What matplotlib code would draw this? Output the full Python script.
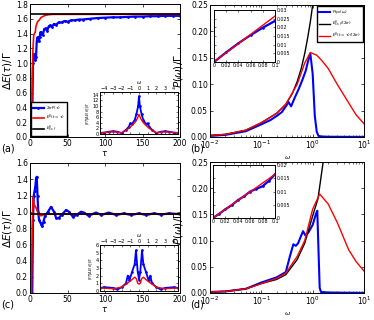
import numpy as np
import matplotlib
matplotlib.use("Agg")
import matplotlib.pyplot as plt

# ---- panel (a): energy vs tau ----
tau_a_blue = [0, 2, 3, 4, 5, 6, 7, 8, 9, 10, 11, 12, 13, 14, 15, 17, 19, 21, 23, 25, 27,
              29, 32, 35, 38, 42, 46, 50, 55, 60, 65, 70, 80, 90, 100, 110, 120, 130,
              140, 150, 160, 170, 180, 190, 200]
dE_a_blue = [0, 0, 0.3, 1.0, 1.12, 1.08, 1.04, 1.08, 1.30, 1.35, 1.32, 1.30, 1.36, 1.42,
             1.40, 1.38, 1.46, 1.47, 1.44, 1.50, 1.51, 1.49, 1.53, 1.52, 1.55, 1.55, 1.57,
             1.56, 1.58, 1.58, 1.59, 1.59, 1.60, 1.61, 1.615, 1.62, 1.62, 1.625, 1.63,
             1.63, 1.635, 1.635, 1.64, 1.64, 1.64]
tau_a_red = [0, 2, 3, 4, 5, 6, 7, 8, 10, 12, 15, 20, 25, 30, 200]
dE_a_red = [0, 0, 0.8, 1.2, 1.38, 1.40, 1.42, 1.50, 1.56, 1.58, 1.62, 1.645, 1.655, 1.66, 1.66]
Ess_a = 1.66

w_ins_a_blue = [-4.5, -4, -3.5, -3, -2.5, -2, -1.5, -1.2, -1, -0.8, -0.5, -0.3, -0.1, 0,
                0.1, 0.3, 0.5, 0.8, 1, 1.2, 1.5, 2, 2.5, 3, 3.5, 4, 4.5]
ft_ins_a_blue = [0.4, 0.5, 0.8, 1.0, 0.8, 0.3, 1.5, 2.5, 3.8, 3.6, 5.0, 7.0, 10.0, 13.5,
                 10.0, 7.0, 5.0, 3.6, 3.8, 2.5, 1.5, 0.3, 0.8, 1.0, 0.8, 0.5, 0.4]
w_ins_a_red = [-4.5, -3, -2, -1.5, -1, -0.5, -0.2, 0, 0.2, 0.5, 1, 1.5, 2, 3, 4.5]
ft_ins_a_red = [0.4, 0.8, 0.5, 1.3, 2.5, 4.0, 5.5, 7.0, 5.5, 4.0, 2.5, 1.3, 0.5, 0.8, 0.4]

# ---- panel (b): spectrum ----
w_b_blue = [0.01, 0.02, 0.05, 0.1, 0.15, 0.2, 0.25, 0.3, 0.34, 0.38, 0.45, 0.53, 0.63,
            0.73, 0.82, 0.9, 1.0, 1.1, 1.2, 1.3, 1.5, 2, 5, 10]
P_b_blue = [0.002, 0.004, 0.011, 0.024, 0.032, 0.040, 0.047, 0.058, 0.066, 0.058, 0.075,
            0.090, 0.108, 0.125, 0.145, 0.158, 0.12, 0.04, 0.01, 0.002, 0.001, 0.0005,
            0.0003, 0.0002]
w_b_red = [0.01, 0.02, 0.05, 0.1, 0.2, 0.3, 0.5, 0.7, 0.9, 1.2, 1.5, 2, 3, 5, 7, 10]
P_b_red = [0.003, 0.005, 0.013, 0.027, 0.045, 0.062, 0.10, 0.14, 0.16, 0.155, 0.145,
           0.13, 0.10, 0.065, 0.042, 0.025]
w_b_black = [0.01, 0.02, 0.05, 0.1, 0.2, 0.3, 0.4, 0.5, 0.6, 0.7, 0.8, 0.9, 1.0]
P_b_black = [0.003, 0.005, 0.013, 0.027, 0.045, 0.062, 0.082, 0.105, 0.13, 0.158, 0.188,
             0.218, 0.25]

w_ins_b = [0, 0.02, 0.04, 0.06, 0.08, 0.1]
P_ins_b_blue = [0, 0.0056, 0.0108, 0.0155, 0.0198, 0.0237]
P_ins_b_red = [0, 0.0053, 0.0106, 0.0159, 0.0212, 0.0265]

# ---- panel (c): energy vs tau ----
tau_c_blue = [0, 3, 4, 5, 6, 7, 8, 9, 10, 11, 12, 14, 15, 16, 18, 20, 24, 28, 32, 35, 38,
              42, 48, 52, 57, 62, 68, 72, 78, 88, 95, 105, 115, 125, 135, 145, 155, 165,
              175, 185, 200]
dE_c_blue = [0, 0, 0.9, 1.2, 1.25, 1.3, 1.40, 1.43, 1.2, 1.0, 0.9, 0.86, 0.85, 0.82, 0.88,
             0.95, 1.0, 1.06, 1.0, 0.92, 0.92, 0.96, 1.02, 1.0, 0.94, 0.96, 1.0, 0.99, 0.95,
             0.99, 0.96, 0.99, 0.96, 0.98, 0.96, 0.98, 0.96, 0.98, 0.965, 0.98, 0.97]
tau_c_red = [0, 2, 3, 4, 5, 6, 8, 10, 12, 15, 20, 200]
dE_c_red = [0, 0, 0.8, 1.18, 1.10, 1.08, 1.05, 1.0, 0.96, 0.95, 0.97, 0.97]
Ess_c = 0.97

w_ins_c_blue = [-4.5, -4, -3, -2.5, -2, -1.5, -1.3, -1.1, -0.8, -0.5, -0.35, -0.15, 0,
                0.15, 0.35, 0.5, 0.8, 1.1, 1.3, 1.5, 2, 2.5, 3, 4, 4.5]
ft_ins_c_blue = [0.4, 0.5, 0.4, 0.2, 0.5, 1.0, 2.0, 1.4, 2.5, 3.5, 5.3, 2.5, 1.5, 2.5, 5.3,
                 3.5, 2.5, 1.4, 2.0, 1.0, 0.5, 0.2, 0.4, 0.5, 0.4]
w_ins_c_red = [-4.5, -3, -2, -1.5, -1, -0.5, -0.3, -0.15, 0, 0.15, 0.3, 0.5, 1, 1.5, 2, 3, 4.5]
ft_ins_c_red = [0.4, 0.3, 0.5, 0.9, 1.3, 1.8, 1.6, 1.0, 0.9, 1.0, 1.6, 1.8, 1.3, 0.9, 0.5,
                0.3, 0.4]

# ---- panel (d): spectrum ----
w_d_blue = [0.01, 0.02, 0.05, 0.1, 0.2, 0.3, 0.36, 0.42, 0.47, 0.52, 0.6, 0.65, 0.72,
            0.82, 1.0, 1.15, 1.23, 1.3, 1.37, 1.45, 2, 5, 10]
P_d_blue = [0.002, 0.003, 0.008, 0.020, 0.030, 0.040, 0.070, 0.093, 0.090, 0.095, 0.110,
            0.118, 0.110, 0.115, 0.130, 0.150, 0.157, 0.08, 0.01, 0.002, 0.001, 0.0005,
            0.0003]
w_d_red = [0.01, 0.02, 0.05, 0.1, 0.2, 0.3, 0.5, 0.7, 1.0, 1.37, 2, 3, 5, 7, 10]
P_d_red = [0.002, 0.003, 0.008, 0.018, 0.028, 0.038, 0.07, 0.10, 0.16, 0.189, 0.17,
           0.135, 0.083, 0.06, 0.042]
w_d_black = [0.01, 0.02, 0.05, 0.1, 0.2, 0.3, 0.5, 0.7, 1.0, 1.27, 1.6]
P_d_black = [0.002, 0.003, 0.008, 0.018, 0.026, 0.035, 0.064, 0.095, 0.147, 0.18, 0.25]

w_ins_d = [0, 0.01, 0.02, 0.03, 0.04, 0.05, 0.06, 0.07, 0.08, 0.09, 0.1]
P_ins_d_blue = [0, 0.0016, 0.0033, 0.0048, 0.0067, 0.0082, 0.0100, 0.0110, 0.0120,
                0.0140, 0.0165]
P_ins_d_red = [0, 0.0016, 0.0033, 0.0050, 0.0066, 0.0083, 0.0099, 0.0115, 0.0132,
               0.0148, 0.0165]

W, H = 374, 320


def box(x0, x1, y0, y1):
    # pixel box (top-left origin) -> figure fraction
    return [x0 / W, 1 - y1 / H, (x1 - x0) / W, (y1 - y0) / H]


plt.rcParams["font.family"] = "DejaVu Sans"
plt.rcParams["mathtext.fontset"] = "dejavusans"
plt.rcParams["xtick.direction"] = "in"
plt.rcParams["ytick.direction"] = "in"
plt.rcParams["xtick.top"] = True
plt.rcParams["ytick.right"] = True
plt.rcParams["axes.linewidth"] = 0.7

fig = plt.figure(figsize=(W / 100, H / 100), dpi=100)

tick_fs = 5.5
lab_fs = 7.5
ins_fs = 3.0


def energy_panel(rect, tb, yb, tr, yr, ess, ylim, yticks, tag):
    ax = fig.add_axes(box(*rect))
    ax.plot(tb, yb, color="b", lw=1.6, marker=".", ms=2, label=r"$2\pi P(\tau)$")
    ax.plot(tr, yr, color="r", lw=1.2, label=r"$E^0(t=\tau)$")
    ax.axhline(ess, color="k", lw=1.2, label=r"$E^0_{ss,f}$")
    ax.set_xlim(0, 200)
    ax.set_ylim(*ylim)
    ax.set_yticks(yticks)
    ax.set_xticks([0, 50, 100, 150, 200])
    ax.tick_params(labelsize=tick_fs, length=2.5, width=0.5, pad=1.5)
    ax.set_xlabel(r"$\tau$", fontsize=lab_fs - 1.5, labelpad=1)
    ax.set_ylabel(r"$\Delta E(\tau)/\Gamma$", fontsize=lab_fs, labelpad=1)
    ax.text(-0.19, -0.09, tag, transform=ax.transAxes, fontsize=7, va="center")
    return ax


def spectrum_panel(rect, wb, pb, wr, pr, wk, pk, tag):
    ax = fig.add_axes(box(*rect))
    ax.plot(wb, pb, color="b", lw=1.5, label=r"$P_{spa}(\omega)$")
    ax.plot(wk, pk, color="k", lw=1.0, label=r"$E^0_{ss,f}/(2\pi)$")
    ax.plot(wr, pr, color="r", lw=1.0, label=r"$E^0(t=\tau)/(2\pi)$")
    ax.set_xscale("log")
    ax.set_xlim(1e-2, 1e1)
    ax.set_ylim(0, 0.25)
    ax.set_yticks([0, 0.05, 0.10, 0.15, 0.20, 0.25])
    ax.tick_params(labelsize=tick_fs, length=2.5, width=0.5, pad=1.5)
    ax.tick_params(which="minor", length=1.2, width=0.4)
    ax.set_xlabel(r"$\omega$", fontsize=lab_fs - 3, labelpad=2)
    ax.set_ylabel(r"$P(\omega)/\Gamma$", fontsize=lab_fs)
    ax.yaxis.set_label_coords(-0.165, 0.5)
    ax.text(-0.13, -0.09, tag, transform=ax.transAxes, fontsize=7, va="center")
    return ax


def ft_inset(rect, wb, fb, wr, fr, ylim, yticks):
    ins = fig.add_axes(box(*rect))
    ins.plot(wb, fb, color="b", lw=1.3, marker=".", ms=1.8)
    ins.plot(wr, fr, color="r", lw=1.0)
    ins.set_xlim(-4.5, 4.5)
    ins.set_ylim(*ylim)
    ins.set_yticks(yticks)
    ins.set_xticks([-4, -3, -2, -1, 0, 1, 2, 3, 4])
    ins.tick_params(labelsize=ins_fs + 0.6, length=1.5, width=0.4, pad=1,
                    labeltop=True, labelbottom=False)
    ins.xaxis.set_label_position("top")
    ins.set_xlabel(r"$\omega$", fontsize=ins_fs + 0.6, labelpad=1)
    ins.set_ylabel(r"$|FT[\Delta E(t)]|/\Gamma$", fontsize=ins_fs - 0.4, labelpad=0.5)
    return ins


def lin_inset(rect, w, pb, pr, ylim, yticks, yticklabels):
    ins = fig.add_axes(box(*rect))
    ins.plot(w, pb, color="b", lw=1.6, marker=".", ms=1.8)
    ins.plot(w, pr, color="r", lw=1.0)
    ins.set_xlim(0, 0.1)
    ins.set_ylim(*ylim)
    ins.set_xticks([0, 0.02, 0.04, 0.06, 0.08, 0.1])
    ins.set_xticklabels(["0", "0.02", "0.04", "0.06", "0.08", "0.1"])
    ins.set_yticks(yticks)
    ins.set_yticklabels(yticklabels)
    ins.tick_params(labelsize=ins_fs + 0.4, length=1.5, width=0.4, pad=1,
                    labelleft=False, labelright=True)
    return ins


leg_kw = dict(fontsize=ins_fs, handlelength=2.6, borderpad=0.5, labelspacing=0.35,
              handletextpad=0.6, fancybox=False, edgecolor="k", framealpha=1)

ax_a = energy_panel((30, 180, 4, 137), tau_a_blue, dE_a_blue, tau_a_red, dE_a_red, Ess_a,
                    (0, 1.8), np.arange(0, 1.81, 0.2), "(a)")
ax_a.legend(loc="lower left", borderaxespad=0.2, **leg_kw)
ft_inset((100, 178, 92, 134), w_ins_a_blue, ft_ins_a_blue, w_ins_a_red, ft_ins_a_red,
         (0, 15), [0, 2, 4, 6, 8, 10, 12, 14])

ax_b = spectrum_panel((210, 364, 5, 137), w_b_blue, P_b_blue, w_b_red, P_b_red,
                      w_b_black, P_b_black, "(b)")
ax_b.legend(loc="upper right", borderaxespad=0.3, **leg_kw)
lin_inset((214, 275, 10, 62), w_ins_b, P_ins_b_blue, P_ins_b_red, (0, 0.03),
          [0, 0.005, 0.01, 0.015, 0.02, 0.025, 0.03],
          ["0", "0.005", "0.01", "0.015", "0.02", "0.025", "0.03"])

energy_panel((30, 180, 163, 293), tau_c_blue, dE_c_blue, tau_c_red, dE_c_red, Ess_c,
             (0, 1.6), np.arange(0, 1.61, 0.2), "(c)")
ft_inset((100, 178, 245, 291), w_ins_c_blue, ft_ins_c_blue, w_ins_c_red, ft_ins_c_red,
         (0, 6), [0, 1, 2, 3, 4, 5, 6])

spectrum_panel((210, 364, 162, 293), w_d_blue, P_d_blue, w_d_red, P_d_red,
               w_d_black, P_d_black, "(d)")
lin_inset((213, 275, 165, 218), w_ins_d, P_ins_d_blue, P_ins_d_red, (0, 0.02),
          [0, 0.005, 0.01, 0.015, 0.02], ["0", "0.005", "0.01", "0.015", "0.02"])

fig.savefig("out.png", dpi=100)
